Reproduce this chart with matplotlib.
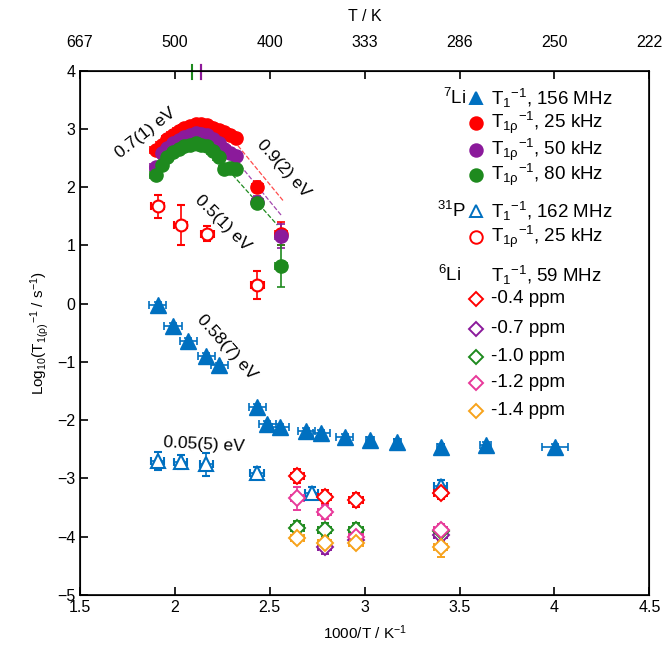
import matplotlib
matplotlib.use("Agg")
import matplotlib.pyplot as plt

plt.rcParams["font.family"] = ["Liberation Sans", "DejaVu Sans"]
plt.rcParams["mathtext.default"] = "regular"
plt.rcParams["font.size"] = 11

BLUE = "#0070C0"
RED = "#FF0000"
PURPLE = "#8B1A9B"
GREEN = "#1E8A1E"
PINK = "#E8399A"
ORANGE = "#F7A21B"

# 7Li T1^-1, 156 MHz (filled triangles)
li7_t1_x = [1.91, 1.99, 2.07, 2.165, 2.235, 2.433, 2.486, 2.556, 2.693, 2.771,
            2.894, 3.027, 3.172, 3.40, 3.638, 4.003]
li7_t1_y = [-0.02, -0.38, -0.64, -0.90, -1.06, -1.78, -2.06, -2.12, -2.18, -2.22,
            -2.29, -2.34, -2.38, -2.46, -2.42, -2.46]
li7_t1_xerr = [0.045] * 11 + [0.02, 0.02, 0.02, 0.03, 0.07]

# 7Li T1rho^-1 (filled circles)
rho_x = [1.90, 1.93, 1.96, 1.99, 2.02, 2.05, 2.08, 2.11, 2.14, 2.17, 2.20, 2.23, 2.26, 2.29, 2.32]
rho25_y = [2.64, 2.72, 2.82, 2.90, 2.96, 3.01, 3.05, 3.08, 3.08, 3.06, 3.02, 2.98, 2.94, 2.89, 2.84]
rho50_y = [2.35, 2.58, 2.67, 2.75, 2.81, 2.86, 2.90, 2.93, 2.92, 2.89, 2.83, 2.76, 2.65, 2.58, 2.53]
rho80_y = [2.21, 2.38, 2.52, 2.60, 2.65, 2.70, 2.73, 2.75, 2.73, 2.70, 2.62, 2.52, 2.31, 2.33, 2.31]
rho_tail_x = [2.435, 2.56]
rho25_tail_y = [2.01, 1.20]
rho50_tail_y = [1.75, 1.16]
rho80_tail_y = [1.72, 0.64]
rho25_tail_yerr = [0.1, 0.2]
rho50_tail_yerr = [0.1, 0.2]
rho80_tail_yerr = [0.08, 0.36]

# fitted curves (dashed)
fit25_x = [2.31, 2.575]
fit25_y = [2.80, 1.75]
fit50_x = [2.30, 2.565]
fit50_y = [2.55, 1.50]
fit80_x = [1.95, 2.00, 2.08, 2.15, 2.22, 2.28, 2.54]
fit80_y = [2.42, 2.56, 2.63, 2.62, 2.50, 2.30, 1.35]

# 31P T1^-1, 162 MHz (open triangles)
p31_t1_x = [1.91, 2.03, 2.165, 2.433, 2.72, 3.40]
p31_t1_y = [-2.70, -2.72, -2.76, -2.90, -3.25, -3.13]
p31_t1_yerr = [0.15, 0.12, 0.2, 0.1, 0.1, 0.1]

# 31P T1rho^-1, 25 kHz (open circles)
p31_rho_x = [1.91, 2.03, 2.17, 2.435]
p31_rho_y = [1.67, 1.35, 1.20, 0.32]
p31_rho_yerr = [0.2, 0.34, 0.13, 0.24]

# 6Li T1^-1, 59 MHz (open diamonds)
li6_x = [2.645, 2.79, 2.955, 3.40]
li6_04 = [-2.95, -3.31, -3.37, -3.25]
li6_07 = [None, -4.17, -4.05, -3.97]
li6_10 = [-3.85, -3.88, -3.88, -3.91]
li6_12 = [-3.34, -3.57, -4.00, -3.88]
li6_14 = [-4.03, -4.11, -4.11, -4.17]
li6_yerr = [0.12, 0.12, 0.12, 0.1]
li6_12_yerr = [0.2, 0.12, 0.12, 0.1]
li6_14_yerr = [0.08, 0.08, 0.08, 0.18]

xticks = [1.5, 2.0, 2.5, 3.0, 3.5, 4.0, 4.5]
top_labels = ["667", "500", "400", "333", "286", "250", "222"]
yticks = [4, 3, 2, 1, 0, -1, -2, -3, -4, -5]

fig = plt.figure(figsize=(6.66, 6.63), dpi=100)
ax = fig.add_axes([0.1201, 0.1026, 0.8549, 0.7908])

eb = dict(capsize=3, elinewidth=1.2, capthick=1.2)

ax.errorbar(li7_t1_x, li7_t1_y, xerr=li7_t1_xerr, yerr=0.05, fmt="^", ms=11,
            color=BLUE, mec=BLUE, **eb)
ax.errorbar(p31_t1_x, p31_t1_y, xerr=0.035, yerr=p31_t1_yerr, fmt="^", ms=10,
            color=BLUE, mfc="white", mec=BLUE, mew=1.5, **eb)

ax.plot(fit25_x, fit25_y, "--", color=RED, lw=0.9, alpha=0.7)
ax.plot(fit50_x, fit50_y, "--", color=PURPLE, lw=0.9, alpha=0.8)
ax.plot(fit80_x, fit80_y, "--", color=GREEN, lw=0.9)

for ys, ty, tyerr, c in [(rho25_y, rho25_tail_y, rho25_tail_yerr, RED),
                         (rho50_y, rho50_tail_y, rho50_tail_yerr, PURPLE),
                         (rho80_y, rho80_tail_y, rho80_tail_yerr, GREEN)]:
    ax.errorbar(rho_x, ys, xerr=0.03, yerr=0.05, fmt="o", ms=9.5, color=c, **eb)
    ax.errorbar(rho_tail_x, ty, xerr=0.03, yerr=tyerr, fmt="o", ms=9.5, color=c, **eb)

ax.errorbar(p31_rho_x, p31_rho_y, xerr=0.035, yerr=p31_rho_yerr, fmt="o", ms=8.5,
            color=RED, mfc="white", mec=RED, mew=1.5, **eb)

for ys, yerr, c in [(li6_04, li6_yerr, RED), (li6_07, li6_yerr, PURPLE),
                    (li6_10, li6_yerr, GREEN), (li6_12, li6_12_yerr, PINK),
                    (li6_14, li6_14_yerr, ORANGE)]:
    xs = [x for x, y in zip(li6_x, ys) if y is not None]
    es = [e for e, y in zip(yerr, ys) if y is not None]
    vs = [y for y in ys if y is not None]
    ax.errorbar(xs, vs, xerr=0.035, yerr=es, fmt="D", ms=8, color=c, mfc="white",
                mec=c, mew=1.4, **eb)

# activation energies
ax.text(1.848, 2.93, "0.7(1) eV", rotation=38, ha="center", va="center", fontsize=12.5)
ax.text(2.575, 2.32, "0.9(2) eV", rotation=-48, ha="center", va="center", fontsize=12.5)
ax.text(2.253, 1.38, "0.5(1) eV", rotation=-45, ha="center", va="center", fontsize=12.5)
ax.text(2.273, -0.74, "0.58(7) eV", rotation=-48, ha="center", va="center", fontsize=12.5)
ax.text(2.153, -2.42, "0.05(5) eV", rotation=-3, ha="center", va="center", fontsize=12.5)

ax.set_xlim(1.5, 4.5)
ax.set_ylim(-5, 4)
ax.set_xticks(xticks)
ax.set_xticklabels([f"{t:g}" for t in xticks])
ax.set_yticks(yticks)
ax.tick_params(direction="in", length=6, width=1.2, labelsize=11.5, top=False, right=False)
ax.set_xlabel("1000/T / K$^{-1}$", fontsize=11, labelpad=6)
ax.set_ylabel("Log$_{10}$(T$_{1(\\rho)}$$^{-1}$ / s$^{-1}$)", fontsize=11, labelpad=4)
for s in ax.spines.values():
    s.set_linewidth(1.2)

top = ax.twiny()
top.set_xlim(ax.get_xlim())
top.set_xticks(xticks)
top.set_xticklabels(top_labels)
top.tick_params(direction="in", length=6, width=1.2, labelsize=11.5, pad=15)
top.set_xlabel("T / K", fontsize=11.5, labelpad=10)

# temperature markers on the top axis
for xv, c in [(2.09, GREEN), (2.135, RED), (2.14, PURPLE)]:
    ax.axvline(xv, ymin=0.985, ymax=1.01, color=c, lw=1.5, clip_on=False)

# legend
tr = ax.transAxes
def px(x, y):
    return ((x - 80) / 569.3, (595 - y) / 524.3)

rows = [
    (98, "$^7$Li", "^", BLUE, BLUE, "T$_1$$^{-1}$, 156 MHz"),
    (123, None, "o", RED, RED, "T$_{1\\rho}$$^{-1}$, 25 kHz"),
    (150, None, "o", PURPLE, PURPLE, "T$_{1\\rho}$$^{-1}$, 50 kHz"),
    (175, None, "o", GREEN, GREEN, "T$_{1\\rho}$$^{-1}$, 80 kHz"),
    (211, "$^{31}$P", "^", "white", BLUE, "T$_1$$^{-1}$, 162 MHz"),
    (237, None, "o", "white", RED, "T$_{1\\rho}$$^{-1}$, 25 kHz"),
    (275, "$^6$Li", None, None, None, "T$_1$$^{-1}$, 59 MHz"),
    (299, None, "D", "white", RED, "-0.4 ppm"),
    (329, None, "D", "white", PURPLE, "-0.7 ppm"),
    (357, None, "D", "white", GREEN, "-1.0 ppm"),
    (383, None, "D", "white", PINK, "-1.2 ppm"),
    (411, None, "D", "white", ORANGE, "-1.4 ppm"),
]
for y, iso, m, fc, ec, label in rows:
    if iso:
        if iso.startswith("$^6"):
            ax.text(*px(438, y), iso, transform=tr, ha="left", va="center", fontsize=13.5)
        else:
            ax.text(*px(466, y), iso, transform=tr, ha="right", va="center", fontsize=13.5)
    if m:
        ax.plot(*px(476, y), marker=m, ms=9 if m != "D" else 7.5, mfc=fc, mec=ec,
                mew=1.4, transform=tr, clip_on=False)
    ax.text(*px(491, y), label, transform=tr, ha="left", va="center", fontsize=13.5)

fig.savefig("out.png", dpi=100)
